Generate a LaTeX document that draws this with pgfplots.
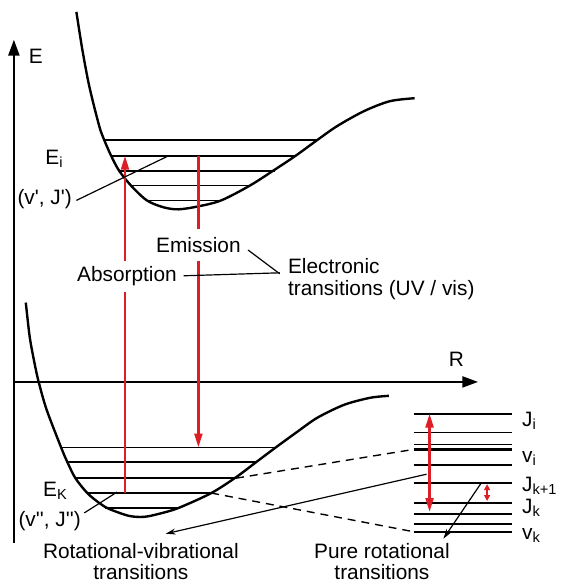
\documentclass[border=0pt]{standalone}
\usepackage{pgfplots}
\pgfplotsset{compat=1.18}
\usetikzlibrary{arrows.meta}
\usepackage{fontspec}
\setmainfont{Liberation Sans}
\definecolor{myred}{RGB}{222,30,38}
\newcommand{\q}{\textquotesingle}
\begin{document}
\fontsize{10.5}{12.5}\selectfont
\begin{tikzpicture}
\begin{axis}[
  width=279pt, height=293.5pt, scale only axis,
  xmin=0, xmax=558, ymin=0, ymax=587, y dir=reverse,
  hide axis, clip=false,
]
\addplot[draw=none] coordinates {(0,0) (558,587)};
% axes
\addplot[line width=1.2pt, -{Triangle[length=8pt,width=5.5pt]}] coordinates {(14,547) (14,40)};
\addplot[line width=1.2pt, -{Triangle[length=8pt,width=5.5pt]}] coordinates {(14,385) (482,385)};
\node at (axis cs:36,57) {E};
\node at (axis cs:460,362) {R};
% upper curve
\addplot[line width=1.2pt, smooth] coordinates {(77,12) (83,50) (90,87) (100,127) (105,141) (112,157) (120,172) (132,187) (148,202) (165,209) (180,211) (200,208) (223,202) (252,187) (277,171) (298,157) (320,141) (340,127) (367,112) (393,102) (418,99)};
% upper levels
\addplot[line width=0.9pt] coordinates {(105,141) (320,141)};
\addplot[line width=0.9pt] coordinates {(112,157) (298,157)};
\addplot[line width=0.9pt] coordinates {(120,172) (277,172)};
\addplot[line width=0.9pt] coordinates {(132,187) (252,187)};
\addplot[line width=0.9pt] coordinates {(148,202) (223,202)};
% lower curve
\addplot[line width=1.2pt, smooth] coordinates {(26,305) (30,340) (35,367) (39,385) (47,413) (62,452) (68,466) (76,482) (88,497) (100,507) (110,513) (130,520) (145,521) (160,518) (180,512) (213,497) (238,481) (258,466) (278,451) (300,435) (320,421) (347,408) (373,401) (392,399)};
% lower levels
\addplot[line width=0.9pt] coordinates {(62,451) (278,451)};
\addplot[line width=0.9pt] coordinates {(68,466) (258,466)};
\addplot[line width=0.9pt] coordinates {(76,482) (238,482)};
\addplot[line width=0.9pt] coordinates {(88,497) (213,497)};
\addplot[line width=0.9pt] coordinates {(106,512) (181,512)};
% dashed
\addplot[line width=0.7pt, dash pattern=on 4pt off 3pt] coordinates {(238,482) (417,453)};
\addplot[line width=0.7pt, dash pattern=on 4pt off 3pt] coordinates {(213,497) (417,536)};
% red transitions
\addplot[myred, line width=1.2pt] coordinates {(126,497) (126,294)};
\addplot[myred, line width=1.2pt, -{Triangle[length=7pt,width=4pt]}] coordinates {(126,263) (126,157)};
\addplot[myred, line width=1.2pt] coordinates {(200,157) (200,231)};
\addplot[myred, line width=1.2pt, -{Triangle[length=7pt,width=4pt]}] coordinates {(200,263) (200,451)};
% labels upper
\node at (axis cs:55,160) {E\textsubscript{i}};
\node at (axis cs:45,201) {(v\q, J\q)};
\addplot[line width=0.6pt] coordinates {(77,202) (170,157)};
\node at (axis cs:200,247) {Emission};
\node at (axis cs:128,278) {Absorption};
\addplot[line width=0.6pt] coordinates {(250,252) (282,276)};
\addplot[line width=0.6pt] coordinates {(185,278) (282,275)};
\node[anchor=west, inner sep=0pt] at (axis cs:290,268) {Electronic};
\node[anchor=west, inner sep=0pt] at (axis cs:290,292) {transitions (UV / vis)};
% lower labels
\node at (axis cs:56,495) {E\textsubscript{K}};
\node at (axis cs:50,525) {(v\q\q, J\q\q)};
\addplot[line width=0.6pt] coordinates {(85,517) (118,496)};
% right levels
\addplot[line width=0.9pt] coordinates {(417,417) (516,417)};
\addplot[line width=0.9pt] coordinates {(417,436) (516,436)};
\addplot[line width=0.9pt] coordinates {(417,448) (516,448)};
\addplot[line width=1.2pt] coordinates {(417,453) (516,453)};
\addplot[line width=0.9pt] coordinates {(417,469) (516,469)};
\addplot[line width=0.9pt] coordinates {(417,487) (516,487)};
\addplot[line width=0.9pt] coordinates {(417,507) (516,507)};
\addplot[line width=0.9pt] coordinates {(417,518) (516,518)};
\addplot[line width=0.9pt] coordinates {(417,528) (516,528)};
\addplot[line width=1.2pt] coordinates {(417,536) (516,536)};
\addplot[myred, line width=1.2pt, {Triangle[length=7pt,width=4pt]}-{Triangle[length=7pt,width=4pt]}] coordinates {(433,417) (433,516)};
\addplot[myred, line width=0.9pt, {Triangle[length=3pt,width=3pt]}-{Triangle[length=3pt,width=3pt]}] coordinates {(491,488) (491,505)};
\node[anchor=west] at (axis cs:519,424) {J\textsubscript{i}};
\node[anchor=west] at (axis cs:519,462) {v\textsubscript{i}};
\node[anchor=west] at (axis cs:519,490) {J\textsubscript{k+1}};
\node[anchor=west] at (axis cs:519,512) {J\textsubscript{k}};
\node[anchor=west] at (axis cs:519,540) {v\textsubscript{k}};
% transitions arrows
\addplot[line width=0.6pt, -{Stealth[length=5pt,width=3pt]}] coordinates {(430,478) (167,538)};
\addplot[line width=0.6pt, -{Stealth[length=5pt,width=3pt]}] coordinates {(485,487) (447,543)};
\node at (axis cs:142,555) {Rotational-vibrational};
\node at (axis cs:142,577) {transitions};
\node at (axis cs:385,555) {Pure rotational};
\node at (axis cs:385,577) {transitions};
\end{axis}
\end{tikzpicture}
\end{document}
